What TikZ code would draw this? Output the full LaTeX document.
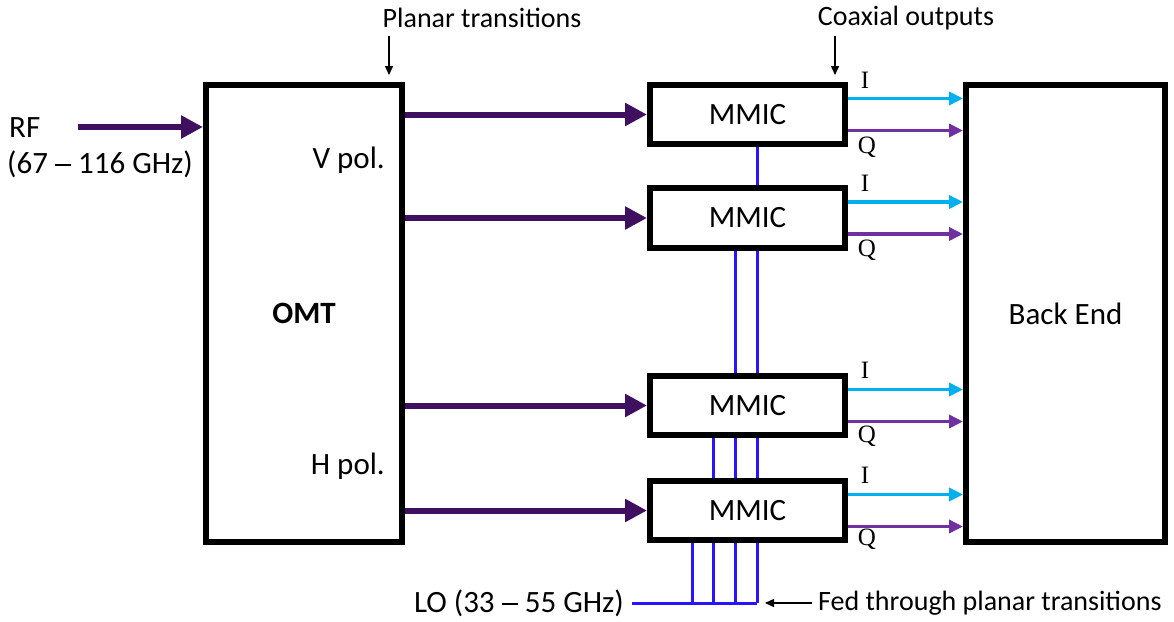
\documentclass[tikz,border=0pt]{standalone}
\usepackage{fontspec}
\setmainfont{Carlito}
\newfontfamily\iqfont{Liberation Serif}
\usetikzlibrary{arrows.meta,calc}
\definecolor{rfpurple}{RGB}{64,16,96}
\definecolor{icyan}{RGB}{0,176,240}
\definecolor{qpurple}{RGB}{112,48,160}
\definecolor{loblue}{RGB}{40,20,255}
\newcommand{\wdash}{\rule[0.23em]{0.52em}{0.055em}}
\tikzset{
  blk/.style={draw=black,line width=6pt,fill=white,inner sep=0pt,font=\fontsize{31}{36}\selectfont},
  txt/.style={inner sep=0pt,font=\fontsize{31}{36}\selectfont},
  ctxt/.style={inner sep=0pt,font=\fontsize{28}{32}\selectfont},
  iq/.style={inner sep=0pt,font=\iqfont\fontsize{25}{29}\selectfont},
  rfarrow/.style={draw=rfpurple,line width=6pt,-{Triangle[length=22pt,width=22pt]}},
  iarrow/.style={draw=icyan,line width=3.5pt,-{Triangle[length=14pt,width=13pt]}},
  qarrow/.style={draw=qpurple,line width=3.5pt,-{Triangle[length=14pt,width=13pt]}},
  loline/.style={draw=loblue,line width=3pt},
  callout/.style={draw=black,line width=1.5pt,-{Triangle[length=9pt,width=8pt]}}
}
\begin{document}
\begin{tikzpicture}[x=1pt,y=-1pt]
\useasboundingbox (0,0) rectangle (1174,621);
% LO feed lines (behind boxes)
\coordinate (j1) at (692,603);
\coordinate (j2) at (713,603);
\coordinate (j3) at (735,603);
\coordinate (j4) at (757,603);
\node[txt,anchor=east] (lo) at (624,603) {LO (33 \wdash\ 55 GHz)};
\draw[loline] ([xshift=8pt]lo.east) -- (j4);
\draw[loline] (j1) -- (692,510);
\draw[loline] (j2) -- (713,405);
\draw[loline] (j3) -- (735,218);
\draw[loline] (j4) -- (757,114);
% blocks
\node[blk,minimum width=196pt,minimum height=457pt] (omt) at (304,313.5) {};
\node[font=\bfseries\fontsize{31}{36}\selectfont,inner sep=0pt] (omtl) at (304,313) {OMT};
\node[blk,minimum width=195pt,minimum height=59pt] (m1) at (747.5,114.5) {MMIC};
\node[blk,minimum width=195pt,minimum height=60pt] (m2) at (747.5,218) {MMIC};
\node[blk,minimum width=195pt,minimum height=59pt] (m3) at (747.5,405.5) {MMIC};
\node[blk,minimum width=195pt,minimum height=59pt] (m4) at (747.5,510.5) {MMIC};
\node[blk,minimum width=199pt,minimum height=457pt] (be) at (1065.5,313.5) {Back End};
% labels inside OMT
\node[txt,anchor=east] (vpol) at (385,160) {V pol.};
\node[txt,anchor=east] (hpol) at (385,466) {H pol.};
% RF input
\node[txt,anchor=west] (rf) at (9,128) {RF};
\node[txt,anchor=west] (rfband) at (7,164) {(67 \wdash\ 116 GHz)};
\coordinate (rfstart) at (78,127);
\draw[rfarrow] (rfstart) -- (omt.west |- rfstart);
% OMT to MMIC
\foreach \m in {m1,m2,m3,m4}{
  \draw[rfarrow] (omt.east |- \m) -- (\m.west);
}
% I/Q outputs
\foreach \m in {m1,m2,m3,m4}{
  \coordinate (\m i) at ([yshift=16pt]\m.east);
  \coordinate (\m q) at ([yshift=-16pt]\m.east);
  \draw[iarrow] (\m i) -- (be.west |- \m i);
  \draw[qarrow] (\m q) -- (be.west |- \m q);
}
\node[iq] (i1) at (865,80) {I};
\node[iq] (q1) at (867,147) {Q};
\node[iq] (i2) at (865,183) {I};
\node[iq] (q2) at (867,250) {Q};
\node[iq] (i3) at (865,370) {I};
\node[iq] (q3) at (867,436) {Q};
\node[iq] (i4) at (865,475) {I};
\node[iq] (q4) at (867,539) {Q};
% callouts
\node[ctxt] (pt) at (482,18) {Planar transitions};
\coordinate (pta) at (389,36);
\draw[callout] (pta) -- ([yshift=7pt]omt.north -| pta);
\node[ctxt] (co) at (906,18) {Coaxial outputs};
\coordinate (coa) at (835,36);
\draw[callout] (coa) -- ([yshift=7pt]m1.north -| coa);
\node[ctxt,anchor=west] (fed) at (818,603) {Fed through planar transitions};
\draw[callout] ([xshift=-6pt]fed.west) -- ([xshift=8pt]j4);
\end{tikzpicture}
\end{document}
